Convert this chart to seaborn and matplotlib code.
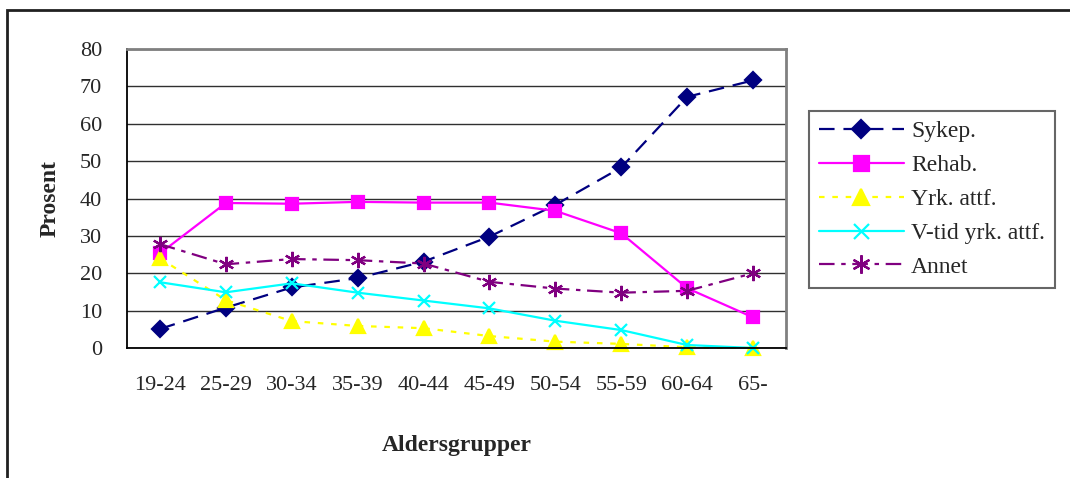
import seaborn as sns
import matplotlib.pyplot as plt
from matplotlib.patches import Rectangle
from matplotlib.ticker import FixedLocator

# age groups and share (%) per measure
grupper = ["19-24", "25-29", "30-34", "35-39", "40-44",
           "45-49", "50-54", "55-59", "60-64", "65-"]
sykep = [5.1, 10.8, 16.2, 18.7, 23.1, 29.8, 38.3, 48.3, 67.2, 71.6]
rehab = [25.3, 38.8, 38.6, 39.1, 38.9, 38.9, 36.7, 30.7, 16.0, 8.2]
yrk_attf = [24.0, 12.8, 7.2, 5.9, 5.3, 3.2, 1.7, 1.1, 0.2, 0.0]
vtid_yrk_attf = [17.6, 14.9, 17.3, 14.8, 12.7, 10.6, 7.3, 4.8, 0.8, 0.0]
annet = [27.8, 22.4, 23.8, 23.5, 22.6, 17.7, 15.9, 14.8, 15.3, 20.0]

serier = [
    ("Sykep.", sykep, "#000080", "D", 8, (7, 4)),
    ("Rehab.", rehab, "#FF00FF", "s", 9, None),
    ("Yrk. attf.", yrk_attf, "#FFFF00", "^", 10, (2.5, 3.5)),
    ("V-tid yrk. attf.", vtid_yrk_attf, "#00FFFF", "x", 9, None),
    ("Annet", annet, "#800080", (6, 2, 0), 11, (7, 3, 2, 3)),
]

sns.set_style("white")
plt.rcParams['font.family'] = ['Liberation Serif', 'DejaVu Serif']

fig = plt.figure(figsize=(10.7, 4.78), dpi=100)
ax = fig.add_axes([127 / 1070, 1 - 348 / 478, 659 / 1070, 299 / 478])

for navn, verdier, farge, markor, msize, dash in serier:
    sns.lineplot(x=grupper, y=verdier, ax=ax, color=farge, marker=markor,
                 markersize=msize, mec=farge, mfc=farge, mew=1.6,
                 linewidth=1.6, label=navn, sort=False)
    l2d = ax.lines[-1]
    if dash is not None:
        l2d.set_dashes(dash)
    l2d.set_clip_on(False)

ax.set_xlim(-0.5, len(grupper) - 0.5)
ax.set_ylim(0, 80)
ax.set_yticks(range(0, 81, 10))
ax.yaxis.grid(True, color="#303030", linewidth=1)
ax.set_axisbelow(True)

ax.xaxis.set_minor_locator(FixedLocator([i - 0.5 for i in range(len(grupper) + 1)]))
ax.tick_params(axis="x", which="major", length=0, pad=20, labelsize=16)
ax.tick_params(axis="x", which="minor", length=6, width=1, color="black", direction="out")
ax.tick_params(axis="y", length=6, width=1, color="black", direction="out", pad=12, labelsize=16)

for side in ["left", "bottom"]:
    ax.spines[side].set_color("black")
    ax.spines[side].set_linewidth(1.3)
for side in ["top", "right"]:
    ax.spines[side].set_color("#808080")
    ax.spines[side].set_linewidth(2)

ax.set_xlabel("Aldersgrupper", fontsize=17, fontweight="bold", labelpad=29)
ax.set_ylabel("Prosent", fontsize=17, fontweight="bold", labelpad=14)

handles, labels = ax.get_legend_handles_labels()
if ax.legend_:
    ax.legend_.remove()
leg = fig.legend(handles, labels, loc="upper left",
                 bbox_to_anchor=(809 / 1070, 1 - 111 / 478),
                 borderaxespad=0, fontsize=17, frameon=True, fancybox=False,
                 handlelength=3.6, handletextpad=0.3, labelspacing=0.52,
                 borderpad=0.42, markerscale=1.2)
leg.get_frame().set_edgecolor("#404040")
leg.get_frame().set_linewidth(1.5)

# outer chart frame (left and top edges visible)
fig.patches.append(Rectangle((7 / 1070, -0.1), 1.2, 1.1 - 10 / 478,
                             transform=fig.transFigure, fill=False,
                             edgecolor="#202020", linewidth=2))

plt.savefig("out.png", dpi=100)
